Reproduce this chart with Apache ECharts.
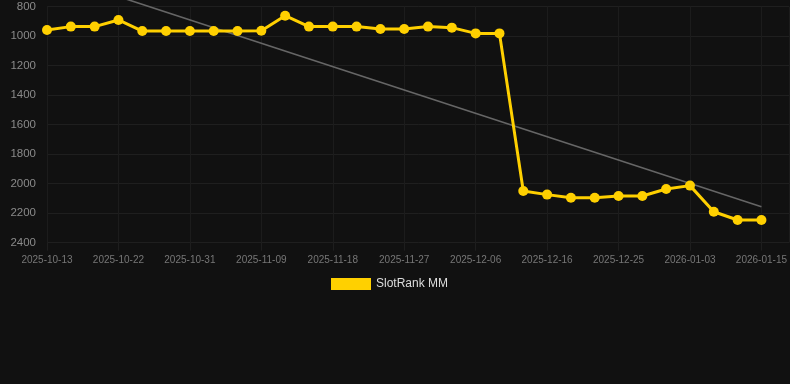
<!DOCTYPE html>
<html>
<head>
<meta charset="utf-8">
<script src="https://cdn.jsdelivr.net/npm/echarts@6/dist/echarts.min.js"></script>
<style>
html,body{margin:0;padding:0;background:#111111;}
#chart{width:790px;height:384px;}
</style>
</head>
<body>
<div id="chart"></div>
<script>
const dates = ['2025-10-13','2025-10-16','2025-10-19','2025-10-22','2025-10-25','2025-10-28','2025-10-31','2025-11-03','2025-11-06','2025-11-09','2025-11-12','2025-11-15','2025-11-18','2025-11-21','2025-11-24','2025-11-27','2025-11-30','2025-12-03','2025-12-06','2025-12-09','2025-12-13','2025-12-16','2025-12-19','2025-12-22','2025-12-25','2025-12-28','2025-12-31','2026-01-03','2026-01-07','2026-01-11','2026-01-15'];
const ranks = [958,935,935,890,965,965,965,965,965,963,861,935,935,935,951,951,935,942,981,981,2050,2074,2095,2095,2083,2083,2036,2013,2190,2246,2246];
const trendIdx = [0,30];
const trendVals = [573,2156];
const yTicks = [800,1000,1200,1400,1600,1800,2000,2200,2400];

const chart = echarts.init(document.getElementById('chart'));
chart.setOption({
  backgroundColor:'#111111',
  animation:false,
  grid:{left:47,right:0,top:6.7,bottom:384-242.7},
  legend:{
    data:['SlotRank MM'],
    left:326, top:273,
    icon:'rect', itemWidth:40, itemHeight:12, itemGap:10,
    textStyle:{color:'#dddddd',fontSize:12,fontFamily:'Liberation Sans, Arial, sans-serif'}
  },
  xAxis:{
    type:'value', min:0, max:31.17, interval:3,
    axisLine:{show:false},
    axisTick:{show:true,length:8,lineStyle:{color:'#1e1e1e'}},
    splitLine:{show:true,lineStyle:{color:'#1c1c1c',width:1}},
    axisLabel:{
      color:'#777777', fontSize:10, margin:13,
      fontFamily:'Liberation Sans, Arial, sans-serif',
      showMaxLabel:false,
      formatter:function(v){ return Number.isInteger(v) && dates[v] ? dates[v] : ''; }
    }
  },
  yAxis:{
    type:'value', inverse:true, min:yTicks[0], max:yTicks[yTicks.length-1], interval:200,
    axisLine:{show:false}, axisTick:{show:false},
    splitLine:{lineStyle:{color:'#1f1f1f',width:1}},
    axisLabel:{color:'#8a8a8a',fontSize:11.5,margin:11,fontFamily:'Liberation Sans, Arial, sans-serif',
      formatter:function(v){ return String(v); }}
  },
  series:[
    {
      name:'Trend', type:'line', clip:false, symbol:'none', z:1, silent:true,
      lineStyle:{color:'#666666',width:1.6},
      data:trendIdx.map((x,i)=>[x,trendVals[i]])
    },
    {
      name:'SlotRank MM', type:'line', z:3,
      symbol:'circle', symbolSize:10,
      itemStyle:{color:'#FFD000'},
      lineStyle:{color:'#FFD000',width:3},
      data:ranks.map((v,i)=>[i,v])
    }
  ]
});
</script>
</body>
</html>
